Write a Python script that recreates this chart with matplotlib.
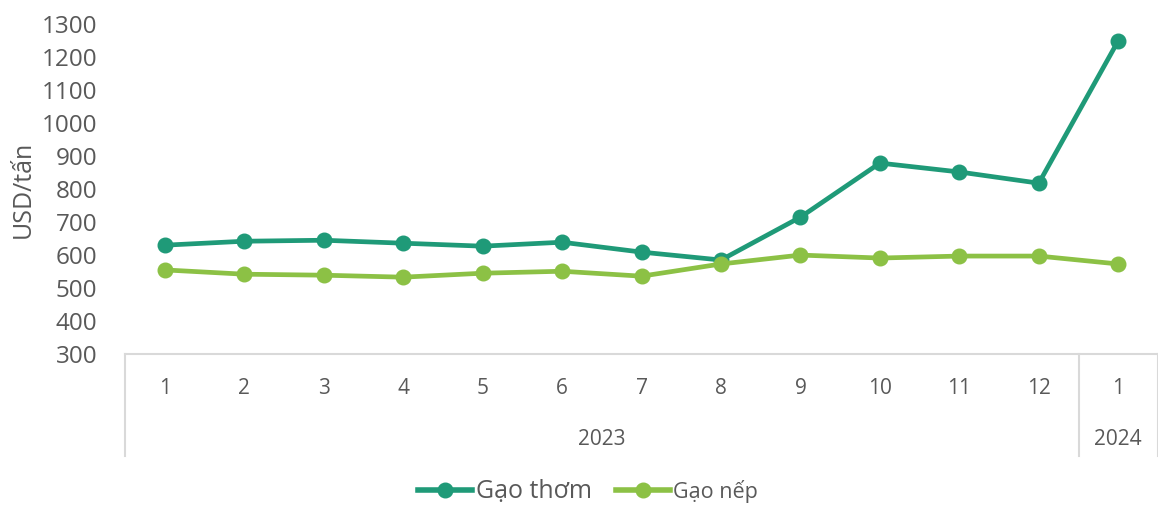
import matplotlib.pyplot as plt
from matplotlib.lines import Line2D

months = ['1', '2', '3', '4', '5', '6', '7', '8', '9', '10', '11', '12', '1']
years = ['2023', '2024']
year_span = [12, 1]

gao_thom = [630, 642, 645, 636, 627, 639, 609, 585, 715, 879, 852, 818, 1250]
gao_nep = [555, 542, 539, 533, 545, 551, 536, 573, 600, 591, 597, 597, 573]

dark = '#1f9a78'
light = '#8cc145'
txt = '#595959'
grid = '#d9d9d9'

plt.rcParams['font.family'] = ['Open Sans', 'DejaVu Sans']

fig = plt.figure(figsize=(11.58, 5.05), dpi=100)
ax = fig.add_axes([0.108, 0.299, 0.892, 0.653])

x = list(range(len(months)))
ax.plot(x, gao_thom, color=dark, lw=3.4, marker='o', ms=10.5, label='Gạo thơm', zorder=3)
ax.plot(x, gao_nep, color=light, lw=3.4, marker='o', ms=10.5, label='Gạo nếp', zorder=3)

ax.set_xlim(-0.5, len(months) - 0.5)
ax.set_ylim(300, 1300)
ax.set_yticks(range(300, 1301, 100))
ax.tick_params(axis='y', length=0, labelsize=17.5, colors=txt, pad=20)
ax.tick_params(axis='x', length=0, labelbottom=False)
ax.set_xticks([])
for s in ['top', 'right', 'left']:
    ax.spines[s].set_visible(False)
ax.spines['bottom'].set_color(grid)
ax.spines['bottom'].set_linewidth(1.5)

ax.set_ylabel('USD/tấn', fontsize=18, color=txt)
ax.yaxis.set_label_coords(-0.086, 0.5)

# two-level category axis
trans = ax.get_xaxis_transform()
for i, m in enumerate(months):
    ax.text(i, -0.105, m, transform=trans, ha='center', va='center', fontsize=15, color=txt)
start = 0
bounds = [-0.5]
for yr, n in zip(years, year_span):
    ax.text(start + (n - 1) / 2, -0.26, yr, transform=trans, ha='center', va='center',
            fontsize=15, color=txt)
    start += n
    bounds.append(start - 0.5)
for b in bounds:
    ax.add_line(Line2D([b, b], [0, -0.31], transform=trans, color=grid, lw=1.5, clip_on=False))

leg = fig.legend(loc='center', bbox_to_anchor=(0.508, 0.027), ncol=2, frameon=False,
                 fontsize=17, handlelength=2.3, columnspacing=1.0, handletextpad=0.15)
for t, size in zip(leg.get_texts(), [18, 15.5]):
    t.set_color(txt)
    t.set_fontsize(size)
for h in leg.get_lines():
    h.set_linewidth(4)

fig.savefig('out.png', dpi=100)
